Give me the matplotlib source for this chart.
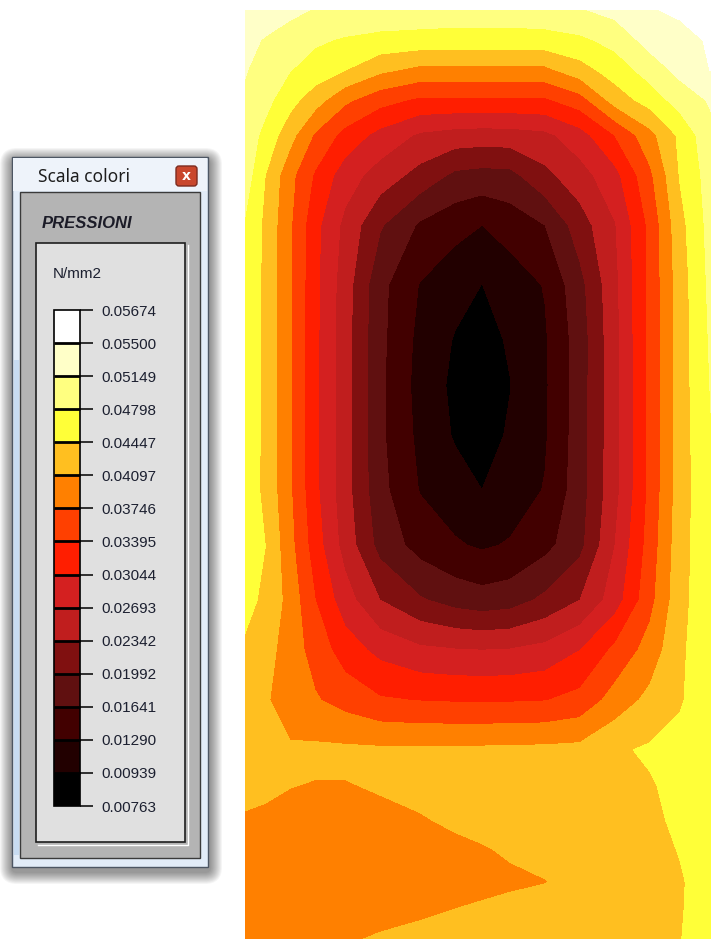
import numpy as np
import matplotlib
matplotlib.use("Agg")
import matplotlib.pyplot as plt
from matplotlib.patches import Rectangle, FancyBboxPatch

# colour scale of the pressure map (N/mm2)
levels = [0.00763, 0.00939, 0.01290, 0.01641, 0.01992, 0.02342, 0.02693,
          0.03044, 0.03395, 0.03746, 0.04097, 0.04447, 0.04798, 0.05149,
          0.05500, 0.05674]
band_colors = ["#000000", "#220000", "#420000", "#601010", "#801010",
               "#c01e1e", "#d42020", "#ff1e00", "#ff4000", "#ff8000",
               "#ffbf20", "#ffff38", "#ffff80", "#ffffc8", "#ffffff"]

# mesh nodes on the wall (cm), y measured down from the top edge
x_nodes = [0, 20, 45, 70, 100, 135, 175, 210, 237, 265, 300, 335, 370, 405, 435, 466]
y_nodes = [0, 30, 60, 90, 125, 165, 215, 275, 330, 375, 425, 480, 535, 590,
           640, 690, 740, 775, 810, 840, 872, 900, 929]

# nodal pressures, kN/m2 (1 kN/m2 = 0.001 N/mm2)
p_kpa = [
    [53.6, 52.9, 52.2, 51.3, 50.8, 50.5, 50.3, 50.1, 50.1, 50.1, 50.3, 51.2, 52.6, 54.7, 55.7, 56.4],
    [52.2, 51.3, 50.1, 48.5, 47.6, 46.9, 46.6, 46.4, 46.4, 46.4, 46.6, 47.3, 49.1, 52.9, 53.6, 55.5],
    [51.7, 50.1, 48.1, 46.5, 44.5, 41.7, 40.0, 40.0, 40.0, 40.0, 40.1, 43.0, 46.1, 49.5, 52.5, 55.1],
    [51.0, 49.1, 45.7, 42.5, 38.2, 35.2, 33.3, 33.3, 33.3, 33.3, 33.4, 35.9, 42.5, 46.0, 49.5, 51.9],
    [50.1, 47.0, 42.2, 37.0, 32.7, 29.3, 26.4, 25.5, 25.3, 25.4, 26.1, 29.0, 34.0, 39.8, 45.2, 50.6],
    [49.8, 44.5, 38.5, 33.5, 28.6, 25.4, 22.2, 19.2, 18.7, 18.9, 22.5, 25.5, 29.3, 36.7, 44.7, 49.6],
    [47.6, 43.8, 37.9, 31.5, 26.0, 20.3, 15.9, 14.1, 12.9, 14.4, 16.4, 21.7, 26.7, 34.8, 43.3, 49.3],
    [47.3, 43.7, 37.9, 31.3, 25.1, 17.4, 12.7, 10.6, 9.34, 11.0, 13.1, 18.8, 26.0, 34.8, 42.7, 48.9],
    [47.3, 43.7, 37.9, 31.3, 24.8, 17.3, 11.9, 9.13, 8.25, 9.74, 12.5, 18.1, 25.8, 34.8, 42.7, 48.5],
    [47.3, 43.7, 37.9, 31.3, 24.8, 17.1, 11.6, 8.60, 7.72, 9.30, 12.4, 18.2, 25.8, 34.8, 42.7, 48.2],
    [46.9, 43.7, 37.9, 31.3, 24.8, 17.1, 12.0, 9.04, 8.16, 9.74, 12.5, 18.2, 25.8, 34.8, 42.7, 47.8],
    [46.6, 43.7, 37.9, 31.3, 24.8, 17.5, 12.7, 10.8, 9.39, 11.0, 13.1, 18.3, 25.8, 34.8, 42.7, 47.5],
    [45.9, 44.5, 38.5, 32.2, 25.5, 18.7, 15.0, 13.3, 12.4, 13.2, 15.3, 18.9, 26.9, 35.4, 43.0, 47.3],
    [45.2, 44.0, 39.6, 34.0, 28.5, 23.4, 20.3, 18.5, 17.8, 18.3, 20.7, 23.4, 28.7, 36.3, 43.3, 47.1],
    [44.1, 42.4, 39.2, 36.1, 32.2, 29.4, 27.6, 27.1, 26.9, 27.1, 28.0, 30.4, 34.7, 38.9, 43.8, 47.0],
    [43.1, 41.3, 39.6, 37.8, 36.1, 34.3, 33.8, 33.6, 33.6, 33.6, 33.8, 35.0, 38.9, 41.9, 44.1, 46.9],
    [42.4, 42.0, 41.3, 41.6, 41.6, 41.5, 41.5, 41.6, 41.6, 41.7, 41.8, 42.0, 44.0, 44.9, 45.6, 46.5],
    [42.0, 41.6, 41.05, 40.85, 40.85, 41.2, 41.6, 41.9, 42.0, 42.1, 42.2, 42.4, 43.0, 44.2, 45.4, 46.5],
    [40.6, 40.4, 40.2, 40.1, 40.2, 40.4, 40.8, 41.3, 41.6, 41.8, 42.0, 42.3, 42.9, 43.9, 45.0, 46.3],
    [40.2, 40.0, 39.8, 39.7, 39.7, 39.8, 40.1, 40.5, 40.8, 41.2, 41.6, 42.0, 42.6, 43.5, 44.6, 46.1],
    [39.9, 39.7, 39.5, 39.4, 39.4, 39.5, 39.8, 40.1, 40.3, 40.6, 40.9, 41.6, 42.3, 43.2, 44.2, 45.8],
    [39.7, 39.6, 39.6, 39.7, 39.9, 40.2, 40.6, 41.0, 41.3, 41.6, 41.9, 42.3, 42.8, 43.5, 44.3, 45.6],
    [39.6, 39.8, 40.0, 40.3, 40.7, 41.2, 41.6, 41.9, 42.1, 42.3, 42.5, 42.8, 43.2, 43.8, 44.4, 45.6],
]

W, H = 711, 939
fig = plt.figure(figsize=(W / 100, H / 100), dpi=100)

# pressure map
ax = fig.add_axes([245 / W, 0, 466 / W, 929 / H])
X, Y = np.meshgrid(x_nodes, y_nodes)
P = np.array(p_kpa) / 1000.0
cf = ax.contourf(X, Y, P, levels=levels, colors=band_colors)
ax.set_xlim(x_nodes[0], x_nodes[-1])
ax.set_ylim(y_nodes[-1], y_nodes[0])
ax.axis("off")

# legend window, drawn in pixel coordinates
win = fig.add_axes([0, 0, 1, 1])
win.set_xlim(0, W)
win.set_ylim(H, 0)
win.axis("off")

# drop shadow
for i in range(12):
    pad = 15 - i
    win.add_patch(FancyBboxPatch((12 - pad + 3, 157 - pad + 6), 196 + 2 * pad - 4, 710 + 2 * pad - 4,
                                 boxstyle="round,pad=0,rounding_size=%d" % (pad + 2),
                                 fc="black", ec="none", alpha=0.04))

win.add_patch(Rectangle((12, 157), 196, 710, fc="#e2ecf8", ec="#4d5663", lw=1))
win.add_patch(Rectangle((13, 158), 194, 33, fc="#eef3fa", ec="none"))
win.add_patch(Rectangle((14, 360), 5, 495, fc="#c8dcf2", ec="none"))
win.add_patch(Rectangle((20, 192), 180, 666, fc="#b4b4b4", ec="#3a3a3a", lw=1))
win.add_patch(Rectangle((36, 243), 149, 599, fc="#e0e0e0", ec="#1e1e1e", lw=1.2))
win.plot([38, 188, 188], [845, 845, 245], color="white", lw=1)

# close button
win.add_patch(FancyBboxPatch((176, 166), 21, 20, boxstyle="round,pad=0,rounding_size=3",
                             fc="#c9472d", ec="#7c2b1f", lw=1))
win.text(186.5, 176.5, "x", fontsize=10, fontweight="bold", color="white",
         ha="center", va="center", family=["DejaVu Sans"])

win.text(38, 182, "Scala colori", fontsize=12.5, color="#1e1e1e",
         family=["Noto Sans", "DejaVu Sans"], va="baseline")
win.text(42, 228, "PRESSIONI", fontsize=12, fontweight="bold", fontstyle="italic",
         color="#1c1c28", family=["Liberation Sans"], va="baseline")
win.text(53, 278, "N/mm2", fontsize=11, color="#1c2030",
         family=["Liberation Sans"], va="baseline")

# colour bar
cax = fig.add_axes([54 / W, 1 - 806 / H, 26 / W, (806 - 310) / H])
cb = fig.colorbar(cf, cax=cax, ticks=levels, drawedges=True)
cb.ax.set_yticklabels(["%.5f" % v for v in levels])
cb.ax.tick_params(length=9.4, width=1.2, pad=5.8, labelsize=11,
                  colors="#111111", labelcolor="#1c2030")
for lab in cb.ax.get_yticklabels():
    lab.set_family("Liberation Sans")
cb.outline.set_edgecolor("black")
cb.outline.set_linewidth(1.2)
cb.dividers.set_color("black")
cb.dividers.set_linewidth(2)

fig.savefig("out.png", dpi=100)
